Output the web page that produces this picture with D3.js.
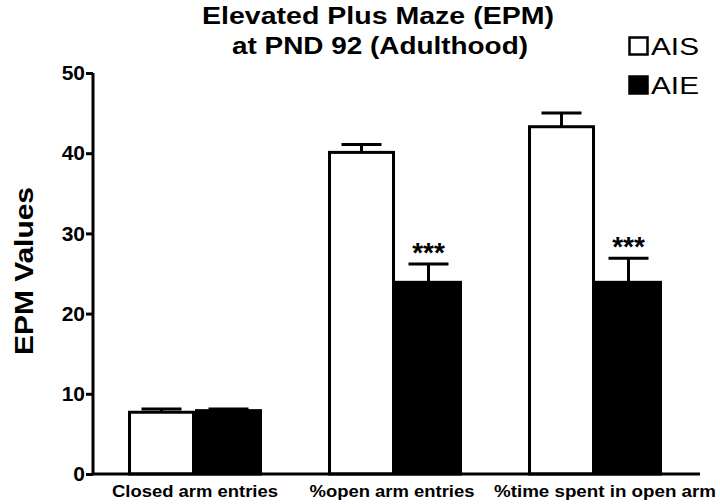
<!DOCTYPE html>
<html>
<head>
<meta charset="utf-8">
<script src="https://cdn.jsdelivr.net/npm/d3@7"></script>
<style>
  body { margin: 0; background: #fff; }
  svg { display: block; font-family: "Liberation Sans", Arial, sans-serif; }
</style>
</head>
<body>
<div id="chart"></div>
<script>
// 데이터
var categories = ["Closed arm entries", "%open arm entries", "%time spent in open arm"];
var seriesNames = ["AIS", "AIE"];
var aisValues = [7.7, 40.1, 43.3];
var aisSem    = [0.4, 1.0, 1.7];
var aieValues = [7.9, 23.9, 23.9];
var aieSem    = [0.2, 2.3, 3.0];
var aieSig    = ["", "***", "***"];
var yTicks    = [0, 10, 20, 30, 40, 50];

var seriesColors = ["#fff", "#000"];
// 원본 그림은 가로로 늘어난 글자 -> textLength 로 맞춤
var catLabelWidths = [166, 165, 222];
var catLabelShift  = [0, -3, 10];

var width = 720, height = 504;

var svg = d3.select("#chart").append("svg")
  .attr("width", width)
  .attr("height", height);

// 스케일
var x0 = d3.scaleBand().domain(categories).range([93, 697])
  .paddingInner(0.33).paddingOuter(0.175);
var x1 = d3.scaleBand().domain(seriesNames).range([0, x0.bandwidth()]);
var y = d3.scaleLinear().domain([0, 50]).range([474, 73]);

// 테이블
var rows = categories.map(function(c, i) {
  return {
    cat: c,
    vals: [
      {key: "AIS", value: aisValues[i], sem: aisSem[i], sig: ""},
      {key: "AIE", value: aieValues[i], sem: aieSem[i], sig: aieSig[i]}
    ]
  };
});

// 막대
var groups = svg.append("g").selectAll("g")
  .data(rows).enter().append("g")
  .attr("transform", function(d) { return "translate(" + x0(d.cat) + ",0)"; });

// 에러바 (위쪽만)
groups.selectAll(".err").data(function(d) { return d.vals; }).enter().append("g")
  .attr("class", "err")
  .each(function(d) {
    var g = d3.select(this);
    var cx = x1(d.key) + x1.bandwidth() / 2;
    g.append("line")
      .attr("x1", cx).attr("x2", cx)
      .attr("y1", y(d.value)).attr("y2", y(d.value + d.sem))
      .attr("stroke", "#000").attr("stroke-width", 3);
    g.append("line")
      .attr("x1", cx - 20).attr("x2", cx + 20)
      .attr("y1", y(d.value + d.sem)).attr("y2", y(d.value + d.sem))
      .attr("stroke", "#000").attr("stroke-width", 3);
    if (d.sig) {
      g.append("text")
        .attr("x", cx).attr("y", y(d.value + d.sem) - 2)
        .attr("text-anchor", "middle")
        .attr("font-size", 28).attr("font-weight", "bold")
        .text(d.sig);
    }
  });

groups.selectAll("rect").data(function(d) { return d.vals; }).enter().append("rect")
  .attr("x", function(d) { return x1(d.key) + 1.5; })
  .attr("y", function(d) { return y(d.value); })
  .attr("width", x1.bandwidth() - 3)
  .attr("height", function(d) { return y(0) - y(d.value); })
  .attr("fill", function(d, i) { return seriesColors[i]; })
  .attr("stroke", "#000")
  .attr("stroke-width", 3);

// y축
var yAxis = svg.append("g")
  .attr("transform", "translate(93,0)")
  .call(d3.axisLeft(y).tickValues(yTicks).tickSize(7).tickPadding(1));
yAxis.select(".domain").attr("d", "M0," + y(50) + "V" + y(0)).attr("stroke-width", 3);
yAxis.selectAll(".tick line").attr("stroke-width", 3);
yAxis.selectAll(".tick text")
  .attr("font-size", 21).attr("font-weight", "bold")
  .attr("font-family", "Liberation Sans, Arial, sans-serif")
  .attr("fill", "#000");

// x축
var xAxis = svg.append("g")
  .attr("transform", "translate(0," + y(0) + ")")
  .call(d3.axisBottom(x0).tickSize(0).tickPadding(11));
xAxis.select(".domain").remove();
xAxis.selectAll(".tick text")
  .attr("font-size", 17).attr("font-weight", "bold")
  .attr("font-family", "Liberation Sans, Arial, sans-serif")
  .attr("fill", "#000")
  .attr("dx", function(d, i) { return catLabelShift[i]; })
  .attr("textLength", function(d, i) { return catLabelWidths[i]; })
  .attr("lengthAdjust", "spacingAndGlyphs");
svg.append("line")
  .attr("x1", 92).attr("x2", 700)
  .attr("y1", y(0)).attr("y2", y(0))
  .attr("stroke", "#000").attr("stroke-width", 3);

// y축 제목
svg.append("text")
  .attr("transform", "translate(33,271) rotate(-90)")
  .attr("text-anchor", "middle")
  .attr("font-size", 26).attr("font-weight", "bold")
  .attr("textLength", 168).attr("lengthAdjust", "spacingAndGlyphs")
  .text("EPM Values");

// 제목
var title = svg.append("text")
  .attr("text-anchor", "middle")
  .attr("font-size", 23).attr("font-weight", "bold");
title.append("tspan").attr("x", 378).attr("y", 24)
  .attr("textLength", 352).attr("lengthAdjust", "spacingAndGlyphs")
  .text("Elevated Plus Maze (EPM)");
title.append("tspan").attr("x", 380).attr("y", 54)
  .attr("textLength", 296).attr("lengthAdjust", "spacingAndGlyphs")
  .text("at PND 92 (Adulthood)");

// 범례
var legend = svg.append("g").attr("transform", "translate(628,36)");
seriesNames.forEach(function(name, i) {
  var lg = legend.append("g").attr("transform", "translate(0," + (i * 39) + ")");
  lg.append("rect")
    .attr("x", 1.5).attr("y", 1.5).attr("width", 18).attr("height", 17)
    .attr("fill", seriesColors[i]).attr("stroke", "#000").attr("stroke-width", 2.5);
  lg.append("text")
    .attr("x", 23).attr("y", 19)
    .attr("font-size", 23)
    .attr("textLength", 48).attr("lengthAdjust", "spacingAndGlyphs")
    .text(name);
});
</script>
</body>
</html>
